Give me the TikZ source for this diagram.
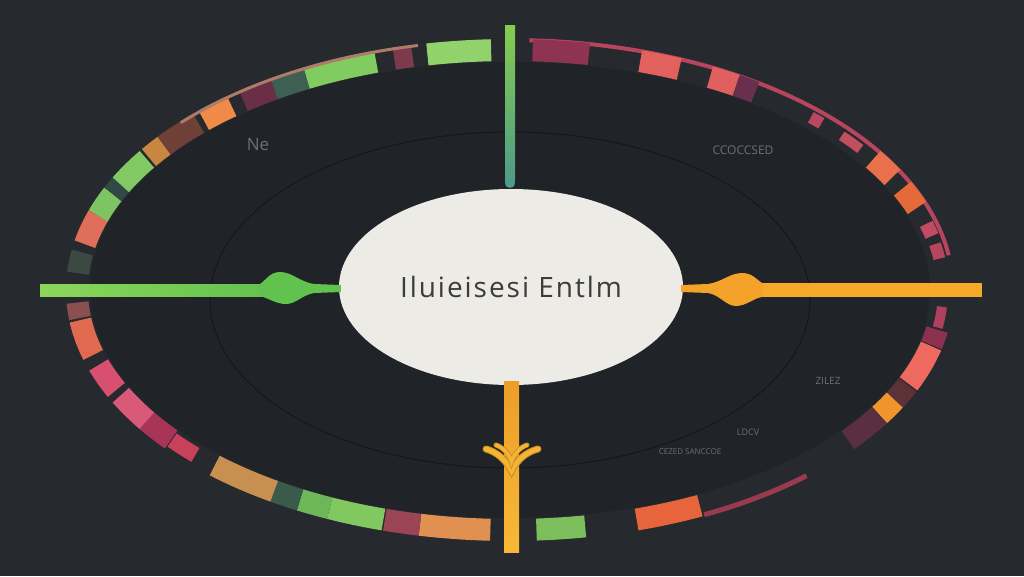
\documentclass[tikz,border=0pt]{standalone}
\usepackage{fontspec}
\setmainfont{Open Sans}
\newfontfamily\hubfont[LetterSpace=7]{Open Sans}
\usetikzlibrary{shapes.geometric,calc}
\definecolor{bgout}{HTML}{26292E}
\definecolor{bgin}{HTML}{202328}
\definecolor{disc}{HTML}{ECEBE6}
\definecolor{ctext}{HTML}{3C3C3C}
\definecolor{faint}{HTML}{6E7072}
\definecolor{gA}{HTML}{8CD65A}
\definecolor{gB}{HTML}{62C24E}
\definecolor{tA}{HTML}{84CE4E}
\definecolor{tB}{HTML}{4E9C86}
\definecolor{oA}{HTML}{F4A22A}
\definecolor{oB}{HTML}{F6AA28}
\definecolor{sA}{HTML}{EC9E28}
\definecolor{sB}{HTML}{F8B836}
\definecolor{wing}{HTML}{F4B434}
\definecolor{wingd}{HTML}{C98A20}
\newcommand{\ringseg}[4][22]{\definecolor{segc}{HTML}{#4}\draw[line width=#1pt,color=segc] plot[domain=#2:#3,samples=14,smooth] ({510+433*cos(\x)},{290+240*sin(\x)});}
\newcommand{\ringthin}[4][4]{\definecolor{segc}{HTML}{#4}\draw[line width=#1pt,color=segc] plot[domain=#2:#3,samples=30,smooth] ({510+443*cos(\x)},{290+250*sin(\x)});}
\tikzset{
  hub/.style={ellipse,fill=disc,minimum width=344pt,minimum height=196pt,inner sep=0pt,text=ctext,font=\hubfont\fontsize{28}{30}\selectfont},
  ghost/.style={text=faint,inner sep=0pt}
}
\begin{document}
\begin{tikzpicture}[x=1pt,y=-1pt,line cap=butt]
\useasboundingbox (0,0) rectangle (1024,576);
\fill[bgout] (0,0) rectangle (1024,576);
\fill[bgin] (510,290) ellipse [x radius=420, y radius=228];
\draw[color=black!35!bgin,line width=1pt] (510,300) ellipse [x radius=300, y radius=168];

% ring: top-left
\ringseg{184}{189}{3A4A42}
\ringseg{191}{198}{DF6E5A}
\ringseg{198}{203.5}{7EC462}
\ringseg{203.5}{206}{2F4A44}
\ringseg{206}{213}{82C964}
\ringseg{213.5}{217}{C8873E}
\ringseg{217}{224}{6E4038}
\ringseg{225}{230}{F08A48}
\ringseg{232}{237}{6B2E47}
\ringseg{237}{242}{3E6052}
\ringseg{242}{252}{80CC60}
\ringseg{254.5}{257}{7D3A4C}
\ringseg{259}{267.5}{92D26C}
\ringthin[3]{222}{258}{B07A6A}
% ring: top-right
\ringthin{272.5}{352}{B8455F}
\ringseg{273}{280.5}{8E3452}
\ringseg{287.5}{293}{E2605E}
\ringseg{297.5}{301.5}{E0605F}
\ringseg{301.5}{304.5}{6A2F4E}
\ringseg[12]{314}{316}{B84860}
\ringseg[10]{320}{324}{C05060}
\ringseg{327}{332}{E8704A}
\ringseg{335}{340}{E46A3A}
\ringseg[14]{344}{347}{C04C62}
\ringseg[12]{349}{352.5}{B84560}
% ring: bottom-right
\ringseg[10]{4}{9}{B04060}
\ringseg{9.5}{13.2}{8E3050}
\ringseg{13.5}{23}{EF6A5E}
\ringseg{23.3}{27.3}{5E3038}
\ringseg{27.3}{31.4}{F0942E}
\ringseg{31.4}{38.7}{5A3040}
\ringthin[5]{48}{64}{9A3A50}
\ringseg{64}{73}{E8643C}
\ringseg{80}{86.5}{7CBD5C}
% ring: bottom-left
\ringseg{92.6}{102}{E09050}
\ringseg{102}{106.8}{9A4455}
\ringseg{107}{114.6}{82C860}
\ringseg{114.6}{119}{6CB858}
\ringseg{119}{123}{3A5A4A}
\ringseg{123}{133}{C89050}
\ringseg[16]{136.6}{141.3}{C8405A}
\ringseg{141.5}{147}{A83458}
\ringseg{147}{154}{D85A78}
\ringseg{155.4}{161.8}{D85070}
\ringseg{164.3}{172.8}{E06A50}
\ringseg{173.3}{177}{8A5050}

% hub
\node[hub] (C) at (511,287) {Iluieisesi Entlm};

% ends of connectors
\coordinate (T) at (510,25);
\coordinate (L) at (40,290);
\coordinate (R) at (982,290);
\coordinate (B) at (511.5,552);

% top connector
\shade[top color=tA,bottom color=tB] ($(T)+(-5,0)$) rectangle ($(C.north)+(4,-8)$);
\fill[tB] ($(C.north)+(-6,-8)$) .. controls ($(C.north)+(-5.5,-2)$) .. ($(C.north)+(-1,-1)$) .. controls ($(C.north)+(3.5,-2)$) .. ($(C.north)+(4,-8)$) -- cycle;

% left connector
\shade[left color=gA,right color=gB] ($(L)+(0,-6)$) rectangle (270,296);
\fill[gB] (260,284) .. controls (266,280) and (270,272) .. (280,272) .. controls (292,272) and (300,282) .. (314,284) -- ($(C.west)+(2,-2)$) -- ($(C.west)+(2,5)$) -- (314,293) .. controls (302,295) and (296,304) .. (286,304) .. controls (276,304) and (268,298) .. (260,296) -- cycle;

% right connector
\fill[oB] ($(R)+(0,-7)$) rectangle (752,297);
\fill[oA] (762,283) .. controls (756,279) and (752,273) .. (742,273) .. controls (730,273) and (722,282) .. (708,284) -- ($(C.east)+(-2,-2)$) -- ($(C.east)+(-2,5)$) -- (708,293) .. controls (720,295) and (726,306) .. (736,306) .. controls (746,306) and (754,298) .. (762,297) -- cycle;

% bottom connector
\shade[top color=sA,bottom color=sB] ($(C.south)+(-7,-4)$) rectangle ($(B)+(7.5,0)$);
\draw[line width=7pt,color=wingd,line cap=round] (486,449) .. controls (497,452) and (506,460) .. (511.5,471) .. controls (517,460) and (526,452) .. (538,449);
\draw[line width=5pt,color=wing,line cap=round] (486,449) .. controls (497,452) and (506,460) .. (511.5,471) .. controls (517,460) and (526,452) .. (538,449);
\draw[line width=5pt,color=wingd,line cap=round] (496,445) .. controls (504,448) and (509,454) .. (511.5,462) .. controls (514,454) and (519,448) .. (527,445);
\draw[line width=3.5pt,color=wing,line cap=round] (496,445) .. controls (504,448) and (509,454) .. (511.5,462) .. controls (514,454) and (519,448) .. (527,445);

% faint labels
\node[ghost,font=\fontsize{17}{18}\selectfont] (n1) at (258,145) {Ne};
\node[ghost,font=\fontsize{12}{14}\selectfont] (n2) at (743,150) {CCOCCSED};
\node[ghost,font=\fontsize{10}{12}\selectfont] (n3) at (828,381) {ZILEZ};
\node[ghost,font=\fontsize{9}{10}\selectfont] (n4) at (748,432) {LDCV};
\node[ghost,font=\fontsize{8}{9}\selectfont] (n5) at (690,452) {CEZED SANCCOE};
\end{tikzpicture}
\end{document}
